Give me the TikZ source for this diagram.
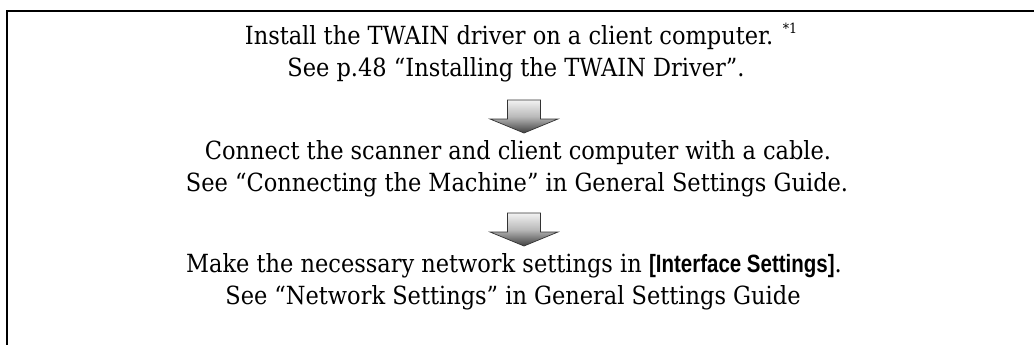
\documentclass[tikz,border=0pt]{standalone}
\usepackage{fontspec}
\setmainfont{DejaVu Serif Condensed}
\newfontfamily\uifont{Liberation Sans}
\usepackage{graphicx}
\newcommand{\uibold}[1]{{\uifont\bfseries\scalebox{0.82}[1]{#1}}}
\tikzset{
  txt/.style={anchor=base, inner sep=0pt, font=\fontsize{25}{30}\selectfont},
  framestyle/.style={line width=2.6pt},
  pics/downarrow/.style={code={
    \draw[line width=0.7pt, draw=black!80, top color=gray!10, bottom color=black!75, middle color=gray!55]
      (-16.5,-17) -- (16.5,-17) -- (16.5,2) -- (34,2) -- (0,16) -- (-34,2) -- (-16.5,2) -- cycle;
  }}
}
\begin{document}
\begin{tikzpicture}[x=1pt,y=-1pt]
\useasboundingbox (0,0) rectangle (1034,345);
\draw[framestyle] (7,345) -- (7,11) -- (1034,11);
\node[txt] (l1) at (521,45) {Install the TWAIN driver on a client computer. \raisebox{0.45em}{\fontsize{14}{17}\selectfont *1}};
\node[txt] (l2) at (516,77) {See p.48 “Installing the TWAIN Driver”.};
\pic at (524,117) {downarrow};
\node[txt] (l3) at (518,159) {Connect the scanner and client computer with a cable.};
\node[txt] (l4) at (517,191) {See “Connecting the Machine” in General Settings Guide.};
\pic at (524,230) {downarrow};
\node[txt] (l5) at (514,272) {Make the necessary network settings in \uibold{[Interface Settings]}.};
\node[txt] (l6) at (513,304) {See “Network Settings” in General Settings Guide};
\end{tikzpicture}
\end{document}
